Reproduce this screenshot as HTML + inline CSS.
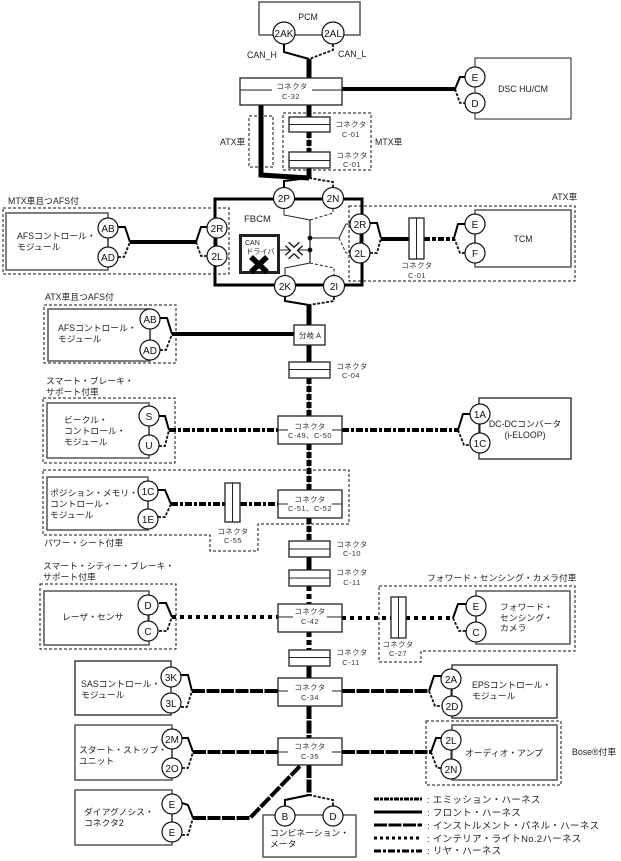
<!DOCTYPE html>
<html lang="ja"><head><meta charset="utf-8"><title>Diagram</title>
<style>
html,body{margin:0;padding:0;background:#fff}
svg{display:block}
text{font-family:"Liberation Sans","Noto Sans CJK JP",sans-serif;font-size:8.8px;fill:#222}
.m{text-anchor:middle}
.c{font-size:10px;text-anchor:middle;fill:#111}
.s{font-size:7.4px;letter-spacing:.5px;text-anchor:middle;fill:#333}
.l{font-size:9.5px;letter-spacing:.3px;fill:#222}
.box{fill:#fff;stroke:#222;stroke-width:1.3}
.gb{fill:#fff;stroke:#555;stroke-width:1.5}
.d{fill:none;stroke:#111;stroke-width:1;stroke-dasharray:3 2}
.f{fill:none;stroke:#000;stroke-width:2}
.fd{fill:none;stroke:#111;stroke-width:1.8;stroke-dasharray:3 1.5}
.t{fill:none;stroke:#000;stroke-width:1}
.th{fill:none;stroke:#000;stroke-width:4}
.e{fill:none;stroke:#000;stroke-width:4;stroke-dasharray:6 2 4 2}
.ev{fill:none;stroke:#000;stroke-width:5;stroke-dasharray:6 2}
.i{fill:none;stroke:#000;stroke-width:4;stroke-dasharray:13 1.5}
.iv{fill:none;stroke:#000;stroke-width:5;stroke-dasharray:13 1.5}
.o{fill:none;stroke:#000;stroke-width:4;stroke-dasharray:4 4}
.ov{fill:none;stroke:#000;stroke-width:5;stroke-dasharray:5 3}
.r{fill:none;stroke:#000;stroke-width:4;stroke-dasharray:7 2 3 2}
circle{fill:#fff;stroke:#111;stroke-width:1.2}
</style></head><body>
<svg width="621" height="861" viewBox="0 0 621 861" xmlns="http://www.w3.org/2000/svg">
<!-- dashed option frames -->
<rect class="d" x="249" y="116" width="24" height="51"/>
<rect class="d" x="283" y="113" width="88" height="57"/>
<rect class="d" x="3" y="208" width="226" height="66"/>
<rect class="d" x="349" y="206" width="226" height="75"/>
<rect class="d" x="44" y="305" width="132" height="58"/>
<rect class="d" x="43" y="398" width="132" height="65"/>
<path class="d" d="M43 470H349V524H258V551H210V535H43Z"/>
<rect class="d" x="40" y="584" width="136" height="65"/>
<path class="d" d="M379 586H575V651H421V662H379Z"/>
<rect class="d" x="426" y="721" width="135" height="64"/>

<!-- modules -->
<path class="gb" d="M259 35V2H360V35H259"/>
<rect class="t" x="475" y="58" width="96" height="61" style="fill:#fff;stroke:#222"/>
<rect class="gb" x="6" y="213" width="102" height="57"/>
<rect class="gb" x="475" y="210" width="96" height="57"/>
<rect class="gb" x="48" y="309" width="102" height="52"/>
<rect class="gb" x="47" y="403" width="102" height="55"/>
<rect class="box" x="479" y="398" width="92" height="61"/>
<rect class="gb" x="47" y="477" width="101" height="53"/>
<rect class="gb" x="44" y="591" width="105" height="54"/>
<rect class="gb" x="476" y="591" width="94" height="53"/>
<rect class="box" x="452" y="665" width="105" height="53"/>
<rect class="box" x="75" y="661" width="96" height="54"/>
<rect class="gb" x="452" y="725" width="105" height="55"/>
<rect class="gb" x="75" y="725" width="97" height="55"/>
<rect class="gb" x="75" y="790" width="97" height="55"/>
<rect class="gb" x="263" y="815" width="93" height="42"/>

<!-- FBCM frame -->
<rect x="215" y="199" width="147" height="86" fill="none" stroke="#000" stroke-width="3"/>

<!-- vertical trunk -->
<path class="f" d="M284 44V52L309 59"/><path class="fd" d="M333 44V50L309 59"/>
<path d="M309 59V78" stroke="#000" stroke-width="5"/>
<path class="th" d="M342 89H455"/>
<path class="f" d="M455 89L460 77H466"/><path class="fd" d="M455 89L460 103H466"/>
<path d="M261 105V175L309 178" fill="none" stroke="#000" stroke-width="5"/>
<path d="M309 105V117M309 168V178" stroke="#000" stroke-width="5"/>
<path d="M309 132V152M309 378V416M309 444V490M309 518V541" stroke="#555" stroke-width="1" fill="none"/>
<path class="ev" d="M309 132V152M309 378V416M309 444V490M309 518V541"/>
<path class="f" d="M309 178L284 181V188"/><path class="fd" d="M309 178L333 182V188"/>
<path class="f" d="M285 297V301L309 305"/><path class="fd" d="M334 297V301L309 305"/>
<path d="M309 305V362" stroke="#000" stroke-width="5"/>
<path d="M309 557V570" stroke="#000" stroke-width="5"/>
<path class="ov" d="M309 586V604M309 632V650"/>
<path d="M309 666V678" stroke="#000" stroke-width="5"/>
<path class="iv" d="M309 706V738M309 765V795"/>
<path class="f" d="M309 795L285 800V806"/><path class="fd" d="M309 795L333 800V806"/>

<!-- FBCM interior -->
<path d="M310 220V263" stroke="#555" stroke-width="1.6"/>
<path d="M284 209V215L310 220" fill="none" stroke="#222"/>
<path d="M333 209V213L310 220" fill="none" stroke="#222" stroke-dasharray="3 2"/>
<path d="M310 263L285 268V275" fill="none" stroke="#222"/>
<path d="M310 263L334 268V275" fill="none" stroke="#222" stroke-dasharray="3 2"/>
<path d="M310 238H339L346 224H351" fill="none" stroke="#222"/>
<path d="M339 238L346 253H351" fill="none" stroke="#222" stroke-dasharray="3 2"/>
<path d="M279 250H310" stroke="#222"/>
<circle cx="310" cy="238" r="1.8" style="fill:#000"/><circle cx="310" cy="250" r="1.8" style="fill:#000"/>
<path d="M287 244L301 257M301 244L287 257" stroke="#111" stroke-width="6"/>
<path d="M287 244L301 257M301 244L287 257" stroke="#fff" stroke-width="3.500"/>
<rect x="240.500" y="235.500" width="38" height="37" fill="#fff" stroke="#222" stroke-width="3"/>
<path d="M251 257L267 272M267 257L251 272" stroke="#000" stroke-width="5.500"/>

<!-- MTX AFS -->
<path class="f" d="M118 227H125L130 242"/><path class="fd" d="M118 257H124L130 242"/>
<path class="th" d="M130 242H196"/>
<path class="f" d="M196 242L201 227H208"/><path class="fd" d="M196 242L201 256H208"/>
<!-- ATX TCM -->
<path class="f" d="M370 223H377L381 238"/><path class="fd" d="M370 253H377L381 238"/>
<path class="th" d="M381 239H409"/>
<path class="e" d="M424 239H454"/>
<path class="f" d="M454 238L458 224H466"/><path class="fd" d="M454 238L460 253H466"/>
<rect class="box" x="409" y="218" width="15" height="41"/><path d="M416.500 218V259" stroke="#222"/>
<!-- ATX AFS -->
<path class="f" d="M160 318H167L172 334"/><path class="fd" d="M160 350H166L172 334"/>
<path class="th" d="M172 334H294"/>
<!-- rear -->
<path class="f" d="M159 416H165L169 430"/><path class="fd" d="M159 446H165L169 430"/>
<path class="r" d="M169 430H278M342 430H458"/>
<path class="f" d="M458 430L463 414H471"/><path class="fd" d="M458 430L464 445H471"/>
<!-- position -->
<path class="f" d="M158 490H165L171 504"/><path class="fd" d="M158 517H165L171 504"/>
<path class="r" d="M171 504H225M240 504H278"/>
<rect class="box" x="225" y="483" width="15" height="39"/><path d="M232.500 483V522" stroke="#222"/>
<!-- laser -->
<path class="f" d="M159 603H166L172 617"/><path class="fd" d="M159 631H167L172 617"/>
<path class="o" d="M172 617H278M342 618H391M406 618H454"/>
<path class="f" d="M453 618L458 604H467"/><path class="fd" d="M453 618L459 631H467"/>
<rect class="box" x="391" y="597" width="15" height="41"/><path d="M398.500 597V638" stroke="#222"/>
<!-- SAS / EPS -->
<path class="f" d="M181 675H188L192 691"/><path class="fd" d="M181 707H187L192 691"/>
<path class="i" d="M192 691H278M342 691H429"/>
<path class="f" d="M429 691L434 676H443"/><path class="fd" d="M429 691L435 706H443"/>
<!-- start stop / audio -->
<path class="f" d="M182 738H188L193 752"/><path class="fd" d="M182 768H188L193 752"/>
<path class="i" d="M193 752H278M342 752H431"/>
<path class="f" d="M431 752L436 738H442"/><path class="fd" d="M431 752L437 768H442"/>
<!-- diag -->
<path class="f" d="M182 803L188 805L193 818"/><path class="fd" d="M182 835H188L193 818"/>
<path class="i" d="M193 818H250L300 766"/>

<!-- connector boxes -->
<rect class="box" x="240" y="78" width="102" height="27"/><path d="M240 90H272M312 90H342" stroke="#222"/>
<rect class="box" x="289" y="117" width="41" height="15"/><path d="M289 124.500H330" stroke="#222"/>
<rect class="box" x="289" y="152" width="41" height="16"/><path d="M289 160.500H330" stroke="#222"/>
<rect class="box" x="294" y="325" width="31" height="20"/>
<rect class="box" x="289" y="362" width="41" height="16"/><path d="M289 369.500H330" stroke="#222"/>
<rect class="box" x="278" y="416" width="64" height="28"/><path d="M278 430H288M332 430H342" stroke="#222"/>
<rect class="box" x="278" y="490" width="64" height="28"/><path d="M278 504H288M332 504H342" stroke="#222"/>
<rect class="box" x="289" y="541" width="41" height="16"/><path d="M289 549H330" stroke="#222"/>
<rect class="box" x="289" y="570" width="41" height="16"/><path d="M289 578H330" stroke="#222"/>
<rect class="box" x="278" y="604" width="64" height="28"/><path d="M278 617H293M327 617H342" stroke="#222"/>
<rect class="box" x="289" y="650" width="41" height="16"/><path d="M289 657.500H330" stroke="#222"/>
<rect class="box" x="278" y="678" width="64" height="28"/><path d="M278 691H288M332 691H342" stroke="#222"/>
<rect class="box" x="278" y="738" width="64" height="27"/><path d="M278 752H288M332 752H342" stroke="#222"/>

<!-- vertical ties between pins -->
<path d="M475 77V103M108 228V257M217 228V256M360 224V253M475 224V253M150 319V350M149 416V445M480 414V443M148 491V519M148 605V631M476 606V632M171 677V703M451 679V706M451 740V769M172 739V768M172 804V832" stroke="#222" fill="none"/>

<!-- pins -->
<circle cx="284" cy="33" r="11"/><text class="c" x="284" y="37">2AK</text>
<circle cx="333" cy="33" r="11"/><text class="c" x="333" y="37">2AL</text>
<circle cx="475" cy="77" r="10"/><text class="c" x="475" y="81">E</text>
<circle cx="475" cy="103" r="10"/><text class="c" x="475" y="107">D</text>
<circle cx="284" cy="198" r="10.500"/><text class="c" x="284" y="202">2P</text>
<circle cx="333" cy="198" r="10.500"/><text class="c" x="333" y="202">2N</text>
<circle cx="217" cy="228" r="10"/><text class="c" x="217" y="232">2R</text>
<circle cx="217" cy="256" r="10"/><text class="c" x="217" y="260">2L</text>
<circle cx="360" cy="224" r="10"/><text class="c" x="360" y="228">2R</text>
<circle cx="360" cy="253" r="10"/><text class="c" x="360" y="257">2L</text>
<circle cx="285" cy="286" r="10.500"/><text class="c" x="285" y="290">2K</text>
<circle cx="334" cy="286" r="10.500"/><text class="c" x="334" y="290">2I</text>
<circle cx="108" cy="228" r="10"/><text class="c" x="108" y="232">AB</text>
<circle cx="108" cy="257" r="10"/><text class="c" x="108" y="261">AD</text>
<circle cx="475" cy="224" r="10"/><text class="c" x="475" y="228">E</text>
<circle cx="475" cy="253" r="10"/><text class="c" x="475" y="257">F</text>
<circle cx="150" cy="319" r="10"/><text class="c" x="150" y="323">AB</text>
<circle cx="150" cy="350" r="10"/><text class="c" x="150" y="354">AD</text>
<circle cx="149" cy="416" r="10"/><text class="c" x="149" y="420">S</text>
<circle cx="149" cy="445" r="10"/><text class="c" x="149" y="449">U</text>
<circle cx="480" cy="414" r="10"/><text class="c" x="480" y="418">1A</text>
<circle cx="480" cy="443" r="10"/><text class="c" x="480" y="447">1C</text>
<circle cx="148" cy="491" r="10"/><text class="c" x="148" y="495">1C</text>
<circle cx="148" cy="519" r="10"/><text class="c" x="148" y="523">1E</text>
<circle cx="148" cy="605" r="10"/><text class="c" x="148" y="609">D</text>
<circle cx="148" cy="631" r="10"/><text class="c" x="148" y="635">C</text>
<circle cx="476" cy="606" r="10"/><text class="c" x="476" y="610">E</text>
<circle cx="476" cy="632" r="10"/><text class="c" x="476" y="636">C</text>
<circle cx="171" cy="677" r="10"/><text class="c" x="171" y="681">3K</text>
<circle cx="171" cy="703" r="10"/><text class="c" x="171" y="707">3L</text>
<circle cx="451" cy="679" r="10"/><text class="c" x="451" y="683">2A</text>
<circle cx="452" cy="706" r="10"/><text class="c" x="452" y="710">2D</text>
<circle cx="172" cy="739" r="10"/><text class="c" x="172" y="743">2M</text>
<circle cx="172" cy="768" r="10"/><text class="c" x="172" y="772">2O</text>
<circle cx="451" cy="740" r="10"/><text class="c" x="451" y="744">2L</text>
<circle cx="451" cy="769" r="10"/><text class="c" x="451" y="773">2N</text>
<circle cx="172" cy="804" r="10"/><text class="c" x="172" y="808">E</text>
<circle cx="172" cy="832" r="10"/><text class="c" x="172" y="836">E</text>
<circle cx="285" cy="816" r="10"/><text class="c" x="285" y="820">B</text>
<circle cx="333" cy="816" r="10"/><text class="c" x="333" y="820">D</text>

<!-- labels -->
<text class="m" x="308" y="20">PCM</text>
<text x="247" y="58">CAN_H</text><text x="338" y="57">CAN_L</text>
<text class="s" x="292" y="89">コネクタ</text><text class="s" x="291" y="99">C-32</text>
<text class="s" x="351" y="127">コネクタ</text><text class="s" x="351" y="137">C-01</text>
<text class="s" x="352" y="158">コネクタ</text><text class="s" x="352" y="167">C-01</text>
<text x="220" y="145">ATX車</text><text x="375" y="145">MTX車</text>
<text x="552" y="200">ATX車</text>
<text x="8" y="204">MTX車且つAFS付</text>
<text x="17" y="239">AFSコントロール・</text><text x="17" y="250">モジュール</text>
<text x="244" y="222" style="font-size:9.500px">FBCM</text>
<text x="245" y="245" style="font-size:7px">CAN</text><text x="246" y="254" style="font-size:7.200px">ドライバ</text>
<text x="523" y="242" class="m">TCM</text>
<text class="s" x="417" y="268">コネクタ</text><text class="s" x="417" y="278">C-01</text>
<text x="45" y="300">ATX車且つAFS付</text>
<text x="58" y="331">AFSコントロール・</text><text x="58" y="342">モジュール</text>
<text class="m" x="310" y="338" style="font-size:7.500px">分岐 A</text>
<text class="s" x="352" y="369">コネクタ</text><text class="s" x="351" y="378">C-04</text>
<text x="46" y="384">スマート・ブレーキ・</text><text x="46" y="395">サポート付車</text>
<text x="64" y="423">ビークル・</text><text x="64" y="434">コントロール・</text><text x="64" y="445">モジュール</text>
<text class="s" x="310" y="429">コネクタ</text><text class="s" x="310" y="438">C-49、C-50</text>
<text class="m" x="525" y="427">DC-DCコンバータ</text><text class="m" x="525" y="438">(i-ELOOP)</text>
<text x="50" y="496">ポジション・メモリ・</text><text x="50" y="507">コントロール・</text><text x="50" y="518">モジュール</text>
<text class="s" x="233" y="534">コネクタ</text><text class="s" x="233" y="543">C-55</text>
<text x="44" y="546">パワー・シート付車</text>
<text class="s" x="310" y="502">コネクタ</text><text class="s" x="310" y="511">C-51、C-52</text>
<text class="s" x="352" y="547">コネクタ</text><text class="s" x="352" y="556">C-10</text>
<text class="s" x="352" y="575">コネクタ</text><text class="s" x="352" y="585">C-11</text>
<text x="43" y="569">スマート・シティー・ブレーキ・</text><text x="43" y="580">サポート付車</text>
<text x="62" y="620">レーザ・センサ</text>
<text class="s" x="310" y="614">コネクタ</text><text class="s" x="310" y="624">C-42</text>
<text x="427" y="581">フォワード・センシング・カメラ付車</text>
<text class="s" x="398" y="647">コネクタ</text><text class="s" x="398" y="656">C-27</text>
<text x="500" y="610">フォワード・</text><text x="500" y="621">センシング・</text><text x="500" y="631">カメラ</text>
<text class="s" x="352" y="655">コネクタ</text><text class="s" x="351" y="665">C-11</text>
<text x="81" y="687">SASコントロール・</text><text x="81" y="698">モジュール</text>
<text class="s" x="310" y="690">コネクタ</text><text class="s" x="310" y="700">C-34</text>
<text x="472" y="688">EPSコントロール・</text><text x="472" y="699">モジュール</text>
<text x="79" y="753">スタート・ストップ・</text><text x="79" y="764">ユニット</text>
<text class="s" x="310" y="749">コネクタ</text><text class="s" x="310" y="759">C-35</text>
<text x="465" y="756">オーディオ・アンプ</text>
<text x="572" y="755">Bose®付車</text>
<text x="84" y="815">ダイアグノシス・</text><text x="84" y="826">コネクタ2</text>
<text x="270" y="836">コンビネーション・</text><text x="270" y="847">メータ</text>

<!-- legend -->
<path class="e" d="M374 799H422" style="stroke-width:3;stroke-dasharray:5 1 3 1"/>
<path class="th" d="M374 812H422" style="stroke-width:3"/>
<path class="i" d="M374 825H422" style="stroke-width:3"/>
<path class="o" d="M374 838H422" style="stroke-width:3;stroke-dasharray:3 3"/>
<path class="r" d="M374 851H422" style="stroke-width:3"/>
<text class="l" x="427" y="803">: エミッション・ハーネス</text>
<text class="l" x="427" y="816">: フロント・ハーネス</text>
<text class="l" x="427" y="829">: インストルメント・パネル・ハーネス</text>
<text class="l" x="427" y="842">: インテリア・ライトNo.2ハーネス</text>
<text class="l" x="427" y="854">: リヤ・ハーネス</text>
<text class="m" x="523" y="92">DSC HU/CM</text>
</svg>
</body></html>
